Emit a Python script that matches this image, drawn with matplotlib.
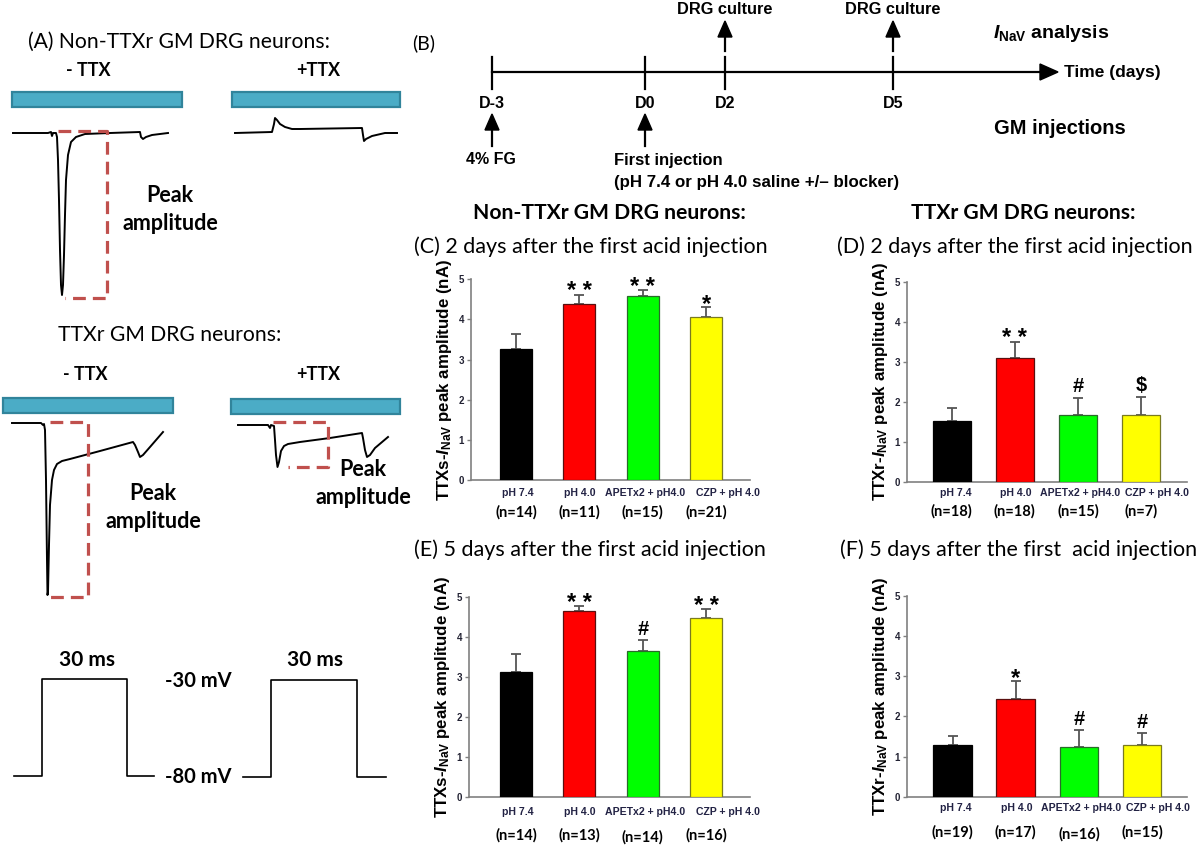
import matplotlib
matplotlib.use('Agg')
import matplotlib.pyplot as plt
from matplotlib.patches import Rectangle, Polygon
import numpy as np

plt.rcParams['mathtext.fontset'] = 'custom'
plt.rcParams['mathtext.rm'] = 'Liberation Sans:bold'
plt.rcParams['mathtext.it'] = 'Liberation Sans:italic:bold'
plt.rcParams['mathtext.bf'] = 'Liberation Sans:bold'

W, H = 1200, 847
fig = plt.figure(figsize=(12, 8.47), dpi=100)

CAL = ['Lato', 'DejaVu Sans']
ARIAL = ['Liberation Sans', 'DejaVu Sans']
NARROW = ['Liberation Sans Narrow', 'Liberation Sans', 'DejaVu Sans']

# ---------------- data: bar panels ----------------
categories = ['pH 7.4', 'pH 4.0', 'APETx2 + pH4.0', 'CZP + pH 4.0']
bar_colors = ['#000000', '#FF0000', '#00FF00', '#FFFF00']
edge_colors = ['#000000', '#5a1010', '#2a6a2a', '#7a7a20']

c_vals = [3.27, 4.38, 4.58, 4.06]
c_errs = [0.36, 0.23, 0.15, 0.24]
c_n = [14, 11, 15, 21]
c_sig = ['', '**', '**', '*']

d_vals = [1.52, 3.08, 1.67, 1.67]
d_errs = [0.33, 0.42, 0.43, 0.45]
d_n = [18, 18, 15, 7]
d_sig = ['', '**', '#', '$']

e_vals = [3.14, 4.66, 3.66, 4.49]
e_errs = [0.44, 0.12, 0.27, 0.21]
e_n = [14, 13, 14, 16]
e_sig = ['', '**', '#', '**']

f_vals = [1.28, 2.43, 1.25, 1.28]
f_errs = [0.24, 0.44, 0.41, 0.30]
f_n = [19, 17, 16, 15]
f_sig = ['', '*', '#', '#']

y_ticks = [0, 1, 2, 3, 4, 5]

# ---------------- data: panel A traces (schematic, px units) ----------------
trace_a1 = [(13,133),(48,133),(51,132),(52,136),(53,133),(56,133),(57,137),(58,160),(59,200),
            (60,250),(61,285),(62,295),(63,285),(64,255),(65,215),(66,180),(68,155),(71,142),
            (76,137),(85,134),(110,133),(140,132),(141,137),(143,139),(146,137),(152,135),
            (160,134),(168,133)]
trace_a2 = [(235,133),(272,132),(274,124),(275,118),(277,120),(280,124),(285,127),(292,129),
            (300,129),(362,128),(363,135),(364,141),(366,139),(372,136),(385,133),(397,133)]
trace_a3 = [(12,423),(41,423),(43,425),(44,424),(45,430),(46,480),(47,560),(47.5,595),(48,592),
            (49,545),(50,505),(52,480),(54,470),(57,464),(62,461),(70,459),(100,451),(133,442),
            (135,445),(138,452),(140,457),(143,455),(150,447),(163,432)]
trace_a4 = [(238,425),(268,425),(270,428),(271,425),(274,426),(275,440),(276,455),(277.5,467),
            (279,462),(281,451),(284,446),(288,444),(300,442),(330,438),(362,433),(363,438),
            (365,450),(367,457),(370,455),(375,448),(388,437)]
peak_boxes = [[(58,131),(107,131),(107,298),(65,298)],
              [(50,422),(88,422),(88,597),(47,597)],
              [(273,422),(328,422),(328,467),(288,467)]]
drug_bars = [(12,92,182,107),(232,92,400,107),(3,398,173,413),(231,399,400,414)]
pulse_1 = [(14,776),(42,776),(42,679),(127,679),(127,776),(154,776)]
pulse_2 = [(243,777),(271,777),(271,680),(357,680),(357,777),(386,777)]

# ---------------- data: panel B timeline ----------------
day_labels = ['D-3', 'D0', 'D2', 'D5']
day_pos = [492, 645, 725, 893]
culture_days = [725, 893]
injection_days = [492, 645]

# ---------------- overlay axes for schematic panels ----------------
ov = fig.add_axes([0, 0, 1, 1])
ov.set_xlim(0, W); ov.set_ylim(H, 0); ov.axis('off')
ov.patch.set_facecolor('none')

def T(x, y, s, size, weight='normal', ha='center', va='center', family=CAL, **kw):
    ov.text(x, y, s, fontsize=size, fontweight=weight, ha=ha, va=va, family=family, **kw)

# Panel A
for x0, y0, x1, y1 in drug_bars:
    ov.add_patch(Rectangle((x0, y0), x1 - x0, y1 - y0, facecolor='#4BACC6',
                           edgecolor='#31849B', linewidth=1.6))
for tr in (trace_a1, trace_a2, trace_a3, trace_a4):
    xs, ys = zip(*tr)
    ov.plot(xs, ys, color='black', lw=1.4, solid_joinstyle='round')
for box in peak_boxes:
    xs, ys = zip(*box)
    ov.plot(xs, ys, color='#C0504D', lw=2.3, dashes=(4, 2.2))
for p in (pulse_1, pulse_2):
    xs, ys = zip(*p)
    ov.plot(xs, ys, color='black', lw=1.2)

T(28, 42, '(A) Non-TTXr GM DRG neurons:', 15.2, ha='left')
T(88, 70, '- TTX', 13, 'bold')
T(318, 70, '+TTX', 13, 'bold')
T(170, 195, 'Peak', 15.5, 'bold')
T(170, 223, 'amplitude', 15.5, 'bold')
T(170, 335, 'TTXr GM DRG neurons:', 15.2)
T(85, 374, '- TTX', 13, 'bold')
T(318, 374, '+TTX', 13, 'bold')
T(153, 493, 'Peak', 15.5, 'bold')
T(153, 522, 'amplitude', 15.5, 'bold')
T(363, 470, 'Peak', 15.5, 'bold')
T(363, 498, 'amplitude', 15.5, 'bold')
T(87, 660, '30 ms', 15, 'bold')
T(315, 660, '30 ms', 15, 'bold')
T(198, 681, '-30 mV', 14.5, 'bold')
T(198, 777, '-80 mV', 14.5, 'bold')

# Panel B
T(424, 43, '(B)', 14)
ov.plot([day_pos[0], 1042], [72, 72], color='black', lw=1.6)
ov.add_patch(Polygon([(1040, 64), (1058, 72), (1040, 80)], closed=True, color='black'))
for x in day_pos:
    ov.plot([x, x], [57, 89], color='black', lw=1.6)
for x, lab in zip(day_pos, day_labels):
    T(x, 104, lab, 11.5, 'bold', family=NARROW)
for x in culture_days:
    ov.plot([x, x], [51, 35], color='black', lw=1.6)
    ov.add_patch(Polygon([(x - 7, 37), (x, 21), (x + 7, 37)], closed=True, color='black'))
    T(x, 9, 'DRG culture', 11.8, 'bold', family=NARROW)
T(993, 34, r'$I_{\rm NaV}$ analysis', 14, 'bold', ha='left', family=NARROW)
T(1064, 73, 'Time (days)', 12.5, 'bold', ha='left', family=NARROW)
T(994, 129, 'GM injections', 14.5, 'bold', ha='left', family=NARROW)
for x in injection_days:
    ov.plot([x, x], [146, 128], color='black', lw=1.6)
    ov.add_patch(Polygon([(x - 7, 130), (x, 114), (x + 7, 130)], closed=True, color='black'))
T(491, 160, '4% FG', 11.5, 'bold', family=NARROW)
T(614, 160, 'First injection', 12, 'bold', ha='left', family=NARROW)
T(614, 182, '(pH 7.4 or pH 4.0 saline +/\u2013 blocker)', 12.2, 'bold', ha='left', family=NARROW)

# headers and titles
T(609, 213, 'Non-TTXr GM DRG neurons:', 15.2, 'bold')
T(1023, 213, 'TTXr GM DRG neurons:', 15.2, 'bold')
T(414, 247, '(C) 2 days after the first acid injection', 15.5, ha='left')
T(837, 247, '(D) 2 days after the first acid injection', 15.5, ha='left')
T(414, 550, '(E) 5 days after the first acid injection', 15.5, ha='left')
T(840, 550, '(F) 5 days after the first  acid injection', 15.5, ha='left')

# ---------------- bar panels ----------------
def px_axes(left, right, y0, y5):
    return fig.add_axes([left / W, (H - y0) / H, (right - left) / W, (y0 - y5) / H])

panels = [
    dict(rect=(471, 750, 480, 279.3), xlim=(-0.71, 3.69), width=0.505, vals=c_vals, errs=c_errs,
         n=c_n, sig=c_sig, ylab='TTXs', lab_dx=[0.03, 0.0, 0.03, 0.35], cat_y=-13, n_y=-32,
         n_dy=[0, 0, 0, 0]),
    dict(rect=(907, 1187, 481.7, 281.7), xlim=(-0.71, 3.73), width=0.61, vals=d_vals, errs=d_errs,
         n=d_n, sig=d_sig, ylab='TTXr', lab_dx=[0.06, 0.02, 0.03, 0.25], cat_y=-11, n_y=-30,
         n_dy=[0, 0, 0, 0]),
    dict(rect=(469, 750, 797.3, 597.3), xlim=(-0.74, 3.69), width=0.505, vals=e_vals, errs=e_errs,
         n=e_n, sig=e_sig, ylab='TTXs', lab_dx=[0.03, 0.0, 0.03, 0.35], cat_y=-15, n_y=-38,
         n_dy=[0, 0, -2, 0]),
    dict(rect=(907, 1187, 796.7, 596), xlim=(-0.72, 3.71), width=0.61, vals=f_vals, errs=f_errs,
         n=f_n, sig=f_sig, ylab='TTXr', lab_dx=[0.06, 0.02, 0.03, 0.25], cat_y=-11, n_y=-36,
         n_dy=[0, 0, -2, 0]),
]

for p in panels:
    ax = px_axes(*p['rect'])
    x = np.arange(len(categories))
    ax.bar(x, p['vals'], width=p['width'], color=bar_colors, edgecolor=edge_colors,
           linewidth=0.9, zorder=3)
    ax.errorbar(x, p['vals'], yerr=[np.zeros(len(x)), p['errs']], fmt='none',
                ecolor='#555555', elinewidth=1.3, capsize=3.5, capthick=1.3, zorder=2)
    ax.set_xlim(*p['xlim'])
    ax.set_ylim(0, 5)
    ax.set_yticks(y_ticks)
    ax.set_yticklabels([str(t) for t in y_ticks], fontsize=7, fontweight='bold',
                       color='#222233', family=ARIAL)
    ax.tick_params(axis='y', length=3, width=1, color='#808080', pad=2)
    ax.set_xticks([])
    for s in ('top', 'right'):
        ax.spines[s].set_visible(False)
    for s in ('left', 'bottom'):
        ax.spines[s].set_color('#808080')
        ax.spines[s].set_linewidth(1.2)
    ax.set_ylabel(p['ylab'] + r'-$I_{\rm NaV}$ peak amplitude (nA)', fontsize=12.2,
                  fontweight='bold', family=ARIAL, labelpad=3)
    for i, lab in enumerate(categories):
        ax.annotate(lab, xy=(i + p['lab_dx'][i], 0), xycoords=('data', 'axes fraction'),
                    xytext=(0, p['cat_y']), textcoords='offset pixels', ha='center',
                    va='center', fontsize=7.6, fontweight='bold', color='#222244', family=ARIAL)
        ax.annotate('(n=%d)' % p['n'][i], xy=(i, 0), xycoords=('data', 'axes fraction'),
                    xytext=(0, p['n_y'] + p['n_dy'][i]), textcoords='offset pixels',
                    ha='center', va='center', fontsize=10.5, fontweight='bold', family=CAL)
        if p['sig'][i]:
            s = p['sig'][i]
            fs = 17 if '*' in s else 14.5
            dy = 3 if '*' in s else 11
            ax.annotate(s.replace('**', '* *'), xy=(i, p['vals'][i] + p['errs'][i]),
                        xycoords='data', xytext=(0, dy), textcoords='offset pixels',
                        ha='center', va='center', fontsize=fs, fontweight='bold', family=ARIAL,
                        annotation_clip=False)

fig.savefig('out.png', dpi=100)
